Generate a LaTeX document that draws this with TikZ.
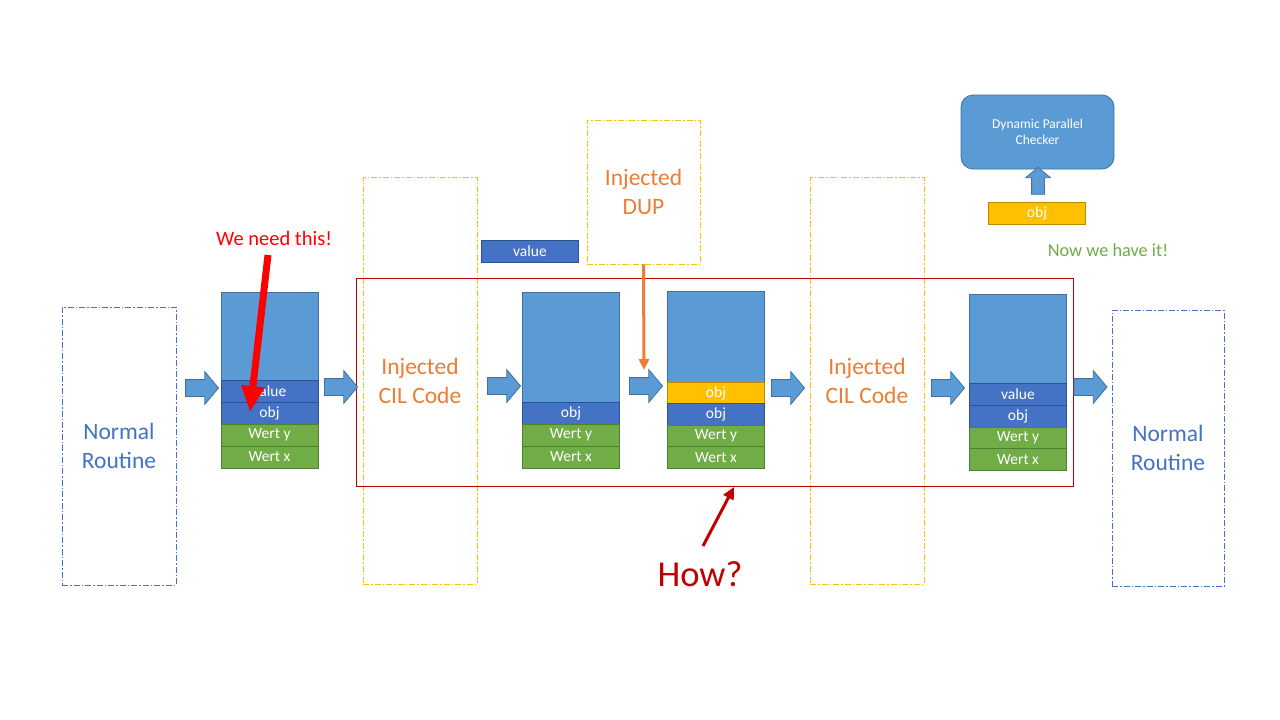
\documentclass[tikz,border=0pt]{standalone}
\usepackage{fontspec}
\setmainfont{Carlito}
\usetikzlibrary{shapes.arrows,arrows.meta}
\definecolor{lblue}{HTML}{5B9BD5}
\definecolor{lblueb}{HTML}{41719C}
\definecolor{dblue}{HTML}{4472C4}
\definecolor{dblueb}{HTML}{2F528F}
\definecolor{mgreen}{HTML}{70AD47}
\definecolor{mgreenb}{HTML}{507E32}
\definecolor{myellow}{HTML}{FFC000}
\definecolor{myellowb}{HTML}{BC8C00}
\definecolor{morange}{HTML}{ED7D31}
\definecolor{dred}{HTML}{C00000}
\definecolor{bred}{HTML}{FF0000}
\tikzset{
  dashdot/.style={dash pattern=on 6pt off 2pt on 1.5pt off 2pt, line width=0.9pt},
  routine/.style={draw=dblue, dashdot, minimum width=114pt, minimum height=278pt, inner sep=0, text=dblue, align=center, font=\fontsize{23.5}{29}\selectfont},
  inject/.style={draw=myellow, dashdot, minimum width=114pt, inner sep=0, text=morange, align=center, font=\fontsize{23.5}{29}\selectfont},
  cell/.style={minimum width=97pt, minimum height=22pt, inner sep=0, text=white, font=\fontsize{15.5}{17}\selectfont, line width=0.8pt},
  topcell/.style={cell, fill=lblue, draw=lblueb},
  bluecell/.style={cell, fill=dblue, draw=dblueb},
  greencell/.style={cell, fill=mgreen, draw=mgreenb},
  yellowcell/.style={cell, fill=myellow, draw=myellowb},
  barrow/.style={single arrow, fill=lblue, draw=lblueb, line width=0.8pt, text height=0pt, text depth=0pt, text width=0pt, inner xsep=0pt, inner ysep=8pt, minimum width=32pt, minimum height=33pt, single arrow head extend=8pt, single arrow tip angle=100},
}
\begin{document}
\begin{tikzpicture}[x=1pt,y=-1pt]
\useasboundingbox (0,0) rectangle (1280,720);
\fill[white] (0,0) rectangle (1280,720);

% routine boxes
\node[routine] (nr1) at (119,446) {Normal\\Routine};
\node[routine, minimum width=112pt, minimum height=276pt] (nr2) at (1168,448) {Normal\\Routine};

% injected boxes
\node[inject, minimum height=407pt] (inj1) at (420,380.5) {Injected\\CIL Code};
\node[inject, minimum height=407pt] (inj2) at (867,380.5) {Injected\\CIL Code};
\node[inject, minimum width=113pt, minimum height=144pt] (dup) at (643.5,192) {Injected\\DUP};

% red frame
\node[draw=dred, line width=0.9pt, minimum width=717pt, minimum height=208pt, inner sep=0] (frame) at (714.5,382) {};

% stack 1
\node[topcell, minimum height=88pt] (s1t) at (269.5,336) {};
\node[bluecell] (s1v) at (269.5,391) {value};
\node[bluecell] (s1o) at (269.5,413) {obj};
\node[greencell] (s1y) at (269.5,435) {Wert y};
\node[greencell] (s1x) at (269.5,457) {Wert x};

% stack 2
\node[topcell, minimum height=110pt] (s2t) at (571,347) {};
\node[bluecell] (s2o) at (571,413) {obj};
\node[greencell] (s2y) at (571,435) {Wert y};
\node[greencell] (s2x) at (571,457) {Wert x};

% stack 3
\node[topcell, minimum height=91pt] (s3t) at (716,336.5) {};
\node[yellowcell] (s3d) at (716,393) {obj};
\node[bluecell] (s3o) at (716,414.5) {obj};
\node[greencell] (s3y) at (716,436) {Wert y};
\node[greencell] (s3x) at (716,457.5) {Wert x};

% stack 4
\node[topcell, minimum height=89pt] (s4t) at (1018,338.5) {};
\node[bluecell] (s4v) at (1018,394) {value};
\node[bluecell] (s4o) at (1018,416) {obj};
\node[greencell] (s4y) at (1018,438) {Wert y};
\node[greencell] (s4x) at (1018,459.5) {Wert x};

% floating value
\node[bluecell] (fv) at (530,251) {value};

% block arrows
\node[barrow] (a1) at (198.5,388) {};
\node[barrow] (a2) at (337.5,387) {};
\node[barrow] (a3) at (500.5,386) {};
\node[barrow] (a4) at (642.5,386) {};
\node[barrow] (a5) at (784.5,388) {};
\node[barrow] (a6) at (944.5,388) {};
\node[barrow] (a7) at (1087,387) {};

% checker
\node[draw=lblueb, fill=lblue, rounded corners=12pt, line width=0.8pt, minimum width=153pt, minimum height=74pt, inner sep=0, text=white, align=center, font=\fontsize{13.5}{16}\selectfont] (chk) at (1037.5,132) {Dynamic Parallel\\Checker};
\node[yellowcell] (cobj) at (1037,213) {obj};
\node[barrow, shape border rotate=90, inner sep=6pt, minimum width=24pt, minimum height=27pt, single arrow head extend=6pt] (up) at (1038,183.5) {};
\node[text=mgreen, font=\fontsize{18.3}{22}\selectfont] (now) at (1108,250) {Now we have it!};

% we need this
\node[text=bred, font=\fontsize{20.5}{24}\selectfont] (need) at (274,238) {We need this!};
\coordinate (needs) at (268,255);
\coordinate (neede) at (250,412);
\draw[bred, line width=7pt, -{Triangle[width=22pt,length=26pt]}] (needs) -- (neede);

% DUP arrow
\coordinate (dupe) at (644,370);
\draw[morange, line width=3pt, -{Triangle[width=10pt,length=11pt]}] (dup.south) -- (dupe);

% How?
\node[text=dred, font=\fontsize{36.5}{42}\selectfont] (how) at (700,574) {How?};
\coordinate (hows) at (703,546);
\coordinate (howe) at (734,487);
\draw[dred, line width=3pt, -{Triangle[width=11pt,length=12pt]}] (hows) -- (howe);
\end{tikzpicture}
\end{document}
